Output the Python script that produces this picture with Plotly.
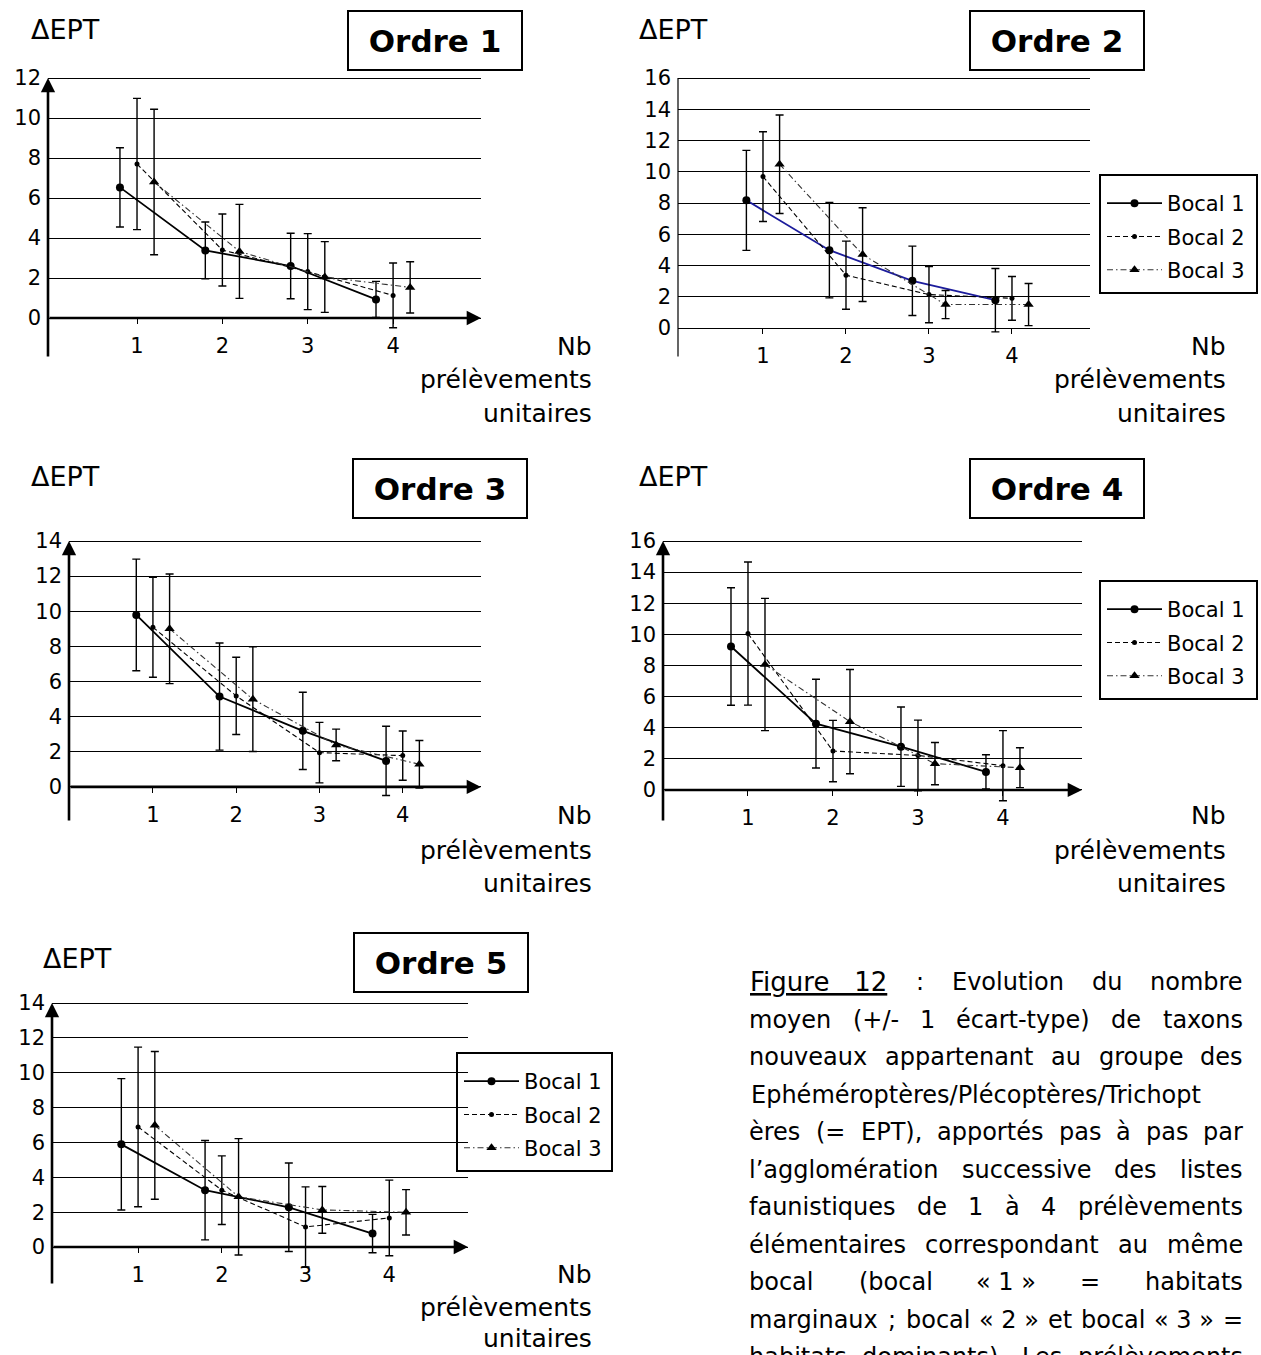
import re
import unicodedata
import plotly.graph_objects as go

W, H = 1261, 1355
FONT = "DejaVu Sans"

# ---------------- data ----------------
x_cats = [1, 2, 3, 4]
x_ticktext = ["1", "2", "3", "4"]
bocal_names = ["Bocal 1", "Bocal 2", "Bocal 3"]
bocal_offsets = [-0.2, 0.0, 0.2]

o1_b1_mean = [6.53, 3.38, 2.60, 0.93]
o1_b1_sd = [1.98, 1.42, 1.64, 0.90]
o1_b2_mean = [7.70, 3.40, 2.32, 1.13]
o1_b2_sd = [3.28, 1.80, 1.90, 1.62]
o1_b3_mean = [6.80, 3.33, 2.05, 1.53]
o1_b3_sd = [3.64, 2.35, 1.77, 1.28]

o2_b1_mean = [8.17, 4.98, 3.02, 1.78]
o2_b1_sd = [3.20, 3.05, 2.22, 2.03]
o2_b2_mean = [9.69, 3.38, 2.14, 1.90]
o2_b2_sd = [2.87, 2.18, 1.80, 1.40]
o2_b3_mean = [10.48, 4.70, 1.50, 1.50]
o2_b3_sd = [3.15, 3.00, 0.90, 1.35]

o3_b1_mean = [9.79, 5.14, 3.19, 1.48]
o3_b1_sd = [3.18, 3.05, 2.20, 1.97]
o3_b2_mean = [9.09, 5.18, 1.95, 1.78]
o3_b2_sd = [2.85, 2.20, 1.72, 1.40]
o3_b3_mean = [9.00, 4.99, 2.39, 1.29]
o3_b3_sd = [3.12, 2.98, 0.90, 1.35]

o4_b1_mean = [9.22, 4.26, 2.78, 1.16]
o4_b1_sd = [3.78, 2.85, 2.55, 1.10]
o4_b2_mean = [10.05, 2.50, 2.22, 1.56]
o4_b2_sd = [4.60, 1.97, 2.27, 2.25]
o4_b3_mean = [8.06, 4.39, 1.69, 1.43]
o4_b3_sd = [4.25, 3.35, 1.36, 1.28]

o5_b1_mean = [5.89, 3.26, 2.28, 0.77]
o5_b1_sd = [3.77, 2.85, 2.54, 1.10]
o5_b2_mean = [6.89, 3.26, 1.15, 1.67]
o5_b2_sd = [4.58, 1.97, 2.30, 2.17]
o5_b3_mean = [6.98, 2.88, 2.13, 1.99]
o5_b3_sd = [4.24, 3.34, 1.34, 1.30]

panel_titles = ["Ordre 1", "Ordre 2", "Ordre 3", "Ordre 4", "Ordre 5"]
panel_data = [
    [(o1_b1_mean, o1_b1_sd), (o1_b2_mean, o1_b2_sd), (o1_b3_mean, o1_b3_sd)],
    [(o2_b1_mean, o2_b1_sd), (o2_b2_mean, o2_b2_sd), (o2_b3_mean, o2_b3_sd)],
    [(o3_b1_mean, o3_b1_sd), (o3_b2_mean, o3_b2_sd), (o3_b3_mean, o3_b3_sd)],
    [(o4_b1_mean, o4_b1_sd), (o4_b2_mean, o4_b2_sd), (o4_b3_mean, o4_b3_sd)],
    [(o5_b1_mean, o5_b1_sd), (o5_b2_mean, o5_b2_sd), (o5_b3_mean, o5_b3_sd)],
]
y_label = "\u0394EPT"
x_label_lines = ["Nb", "prélèvements", "unitaires"]

caption_lines = [
    "<u>Figure\u00a0\u00a0\u00a012</u> : Evolution du nombre",
    "moyen (+/- 1 écart-type) de taxons",
    "nouveaux appartenant au groupe des",
    "Ephéméroptères/Plécoptères/Trichopt",
    "ères (= EPT), apportés pas à pas par",
    "l\u2019agglomération successive des listes",
    "faunistiques de 1 à 4 prélèvements",
    "élémentaires correspondant au même",
    "bocal (bocal «\u00a01\u00a0» = habitats",
    "marginaux ; bocal «\u00a02\u00a0» et bocal «\u00a03\u00a0» =",
    "habitats dominants). Les prélèvements",
]

# ---------------- layout geometry (pixels) ----------------
panels = [
    dict(xpx=(48, 481), ypx=(78, 358), xr=(-0.043, 5.03), yr=(-2, 12), ymax=12, arrows=True,
         legend=None, title_c=(435, 40), ept_c=(65, 29), nb_right=594, nb_y=(346, 380, 413)),
    dict(xpx=(678, 1090), ypx=(78, 358), xr=(-0.024, 4.94), yr=(-1.92, 16), ymax=16, arrows=False,
         legend="legend", title_c=(1057, 40), ept_c=(673, 29), nb_right=1228, nb_y=(346, 380, 413)),
    dict(xpx=(69, 481), ypx=(541, 822), xr=(-0.008, 4.94), yr=(-2, 14), ymax=14, arrows=True,
         legend=None, title_c=(440, 488), ept_c=(65, 476), nb_right=594, nb_y=(816, 850, 883)),
    dict(xpx=(663, 1082), ypx=(541, 822), xr=(0.0, 4.93), yr=(-2.06, 16), ymax=16, arrows=True,
         legend="legend2", title_c=(1057, 488), ept_c=(673, 476), nb_right=1228, nb_y=(816, 850, 883)),
    dict(xpx=(52, 468), ypx=(1003, 1285), xr=(-0.028, 4.94), yr=(-2.18, 14), ymax=14, arrows=True,
         legend="legend3", title_c=(441, 962), ept_c=(77, 958), nb_right=594, nb_y=(1274, 1307, 1338)),
]
# legend frames: left, top, right, bottom (px)
legend_box = {"legend": (1100, 175, 1257, 293), "legend2": (1100, 581, 1257, 699),
              "legend3": (457, 1053, 612, 1171)}

styles = [
    dict(line=dict(color="black", width=1.8, dash="solid"),
         marker=dict(symbol="circle", size=8, color="black")),
    dict(line=dict(color="black", width=1.1, dash="5px,3px"),
         marker=dict(symbol="circle", size=5, color="black")),
    dict(line=dict(color="#333333", width=1.1, dash="6px,3px,1.5px,3px"),
         marker=dict(symbol="triangle-up", size=9, color="black")),
]

fig = go.Figure()
annotations = []
shapes = []
layout = dict(width=W, height=H, margin=dict(l=0, r=0, t=0, b=0, pad=0, autoexpand=False),
              paper_bgcolor="white", plot_bgcolor="rgba(0,0,0,0)", showlegend=True,
              font=dict(family=FONT, color="black"))


def px2fx(px):
    return px / W


def px2fy(py):
    return 1 - py / H


EXTRA = 3  # px of headroom above the top gridline so it is drawn

for i, (p, data, title) in enumerate(zip(panels, panel_data, panel_titles)):
    n = i + 1
    xa = f"x{n}" if n > 1 else "x"
    ya = f"y{n}" if n > 1 else "y"
    xkey = f"xaxis{n}" if n > 1 else "xaxis"
    ykey = f"yaxis{n}" if n > 1 else "yaxis"
    y0, y1 = p["yr"]
    top_px, bot_px = p["ypx"]
    unit = (bot_px - top_px) / (y1 - y0)
    zero_px = bot_px - (0 - y0) * unit
    y1x = y1 + EXTRA / unit

    layout[xkey] = dict(domain=[px2fx(p["xpx"][0]), px2fx(p["xpx"][1])], range=list(p["xr"]),
                        anchor="free", position=px2fy(zero_px),
                        tickvals=x_cats, ticktext=x_ticktext, ticks="outside", ticklen=5,
                        tickwidth=1.2, tickcolor="black", showgrid=False, zeroline=False,
                        showline=False, ticklabelstandoff=4,
                        tickfont=dict(family=FONT, size=21, color="black"))
    layout[ykey] = dict(domain=[px2fy(bot_px), px2fy(top_px - EXTRA)], range=[y0, y1x],
                        anchor=xa, tickvals=list(range(0, p["ymax"] + 1, 2)), ticks="",
                        showgrid=True, gridcolor="black", gridwidth=1.2, zeroline=False,
                        showline=False, ticklabelstandoff=6,
                        tickfont=dict(family=FONT, size=21, color="black"))

    for j, ((mean, sd), name, off, st) in enumerate(zip(data, bocal_names, bocal_offsets, styles)):
        line = dict(st["line"])
        has_leg = p["legend"] is not None
        legend_only = False
        if n == 2 and j == 0:
            # blue curve in this panel, but its legend key is drawn in black
            line["color"] = "#1c1c9c"
            legend_only = True
            fig.add_trace(go.Scatter(
                x=[None], y=[None], mode="lines+markers", name=name, line=st["line"],
                marker=st["marker"], xaxis=xa, yaxis=ya, showlegend=True,
                legend=p["legend"], legendgroup=f"p{n}b{j}"))
        fig.add_trace(go.Scatter(
            x=[c + off for c in x_cats], y=mean, mode="lines+markers", name=name,
            line=line, marker=st["marker"], xaxis=xa, yaxis=ya,
            error_y=dict(type="data", array=sd, symmetric=True, color="black",
                         thickness=1.4, width=4),
            showlegend=has_leg and not legend_only,
            legend=p["legend"] if has_leg else "legend",
            legendgroup=f"p{n}b{j}",
        ))

    if p["arrows"]:
        annotations.append(dict(x=p["xr"][1], y=0, ax=p["xr"][0], ay=0, xref=xa, yref=ya,
                                axref=xa, ayref=ya, showarrow=True, arrowhead=2, arrowsize=1.1,
                                arrowwidth=2.6, arrowcolor="black", text=""))
        annotations.append(dict(x=p["xr"][0], y=y1, ax=p["xr"][0], ay=y0, xref=xa, yref=ya,
                                axref=xa, ayref=ya, showarrow=True, arrowhead=2, arrowsize=1.1,
                                arrowwidth=2.6, arrowcolor="black", text=""))
    else:
        annotations.append(dict(x=p["xr"][0], y=y1, ax=p["xr"][0], ay=y0, xref=xa, yref=ya,
                                axref=xa, ayref=ya, showarrow=True, arrowhead=0,
                                arrowwidth=1.2, arrowcolor="black", text=""))

    # panel title box
    annotations.append(dict(text=f"<b>{title}</b>", x=px2fx(p["title_c"][0]), y=px2fy(p["title_c"][1]),
                            xref="paper", yref="paper", showarrow=False, xanchor="center",
                            yanchor="middle", font=dict(family=FONT, size=31, color="black"),
                            bordercolor="black", borderwidth=2, borderpad=0, width=172, height=57,
                            bgcolor="white"))
    # y label
    annotations.append(dict(text=y_label, x=px2fx(p["ept_c"][0]), y=px2fy(p["ept_c"][1]),
                            xref="paper", yref="paper", showarrow=False, xanchor="center",
                            yanchor="middle", font=dict(family=FONT, size=27, color="black")))
    # x label
    for txt, yy in zip(x_label_lines, p["nb_y"]):
        annotations.append(dict(text=txt, x=px2fx(p["nb_right"]), y=px2fy(yy), xref="paper",
                                yref="paper", showarrow=False, xanchor="right", yanchor="middle",
                                font=dict(family=FONT, size=25, color="black")))

for key, (bl, bt, br, bb) in legend_box.items():
    shapes.append(dict(type="rect", xref="paper", yref="paper", x0=px2fx(bl), x1=px2fx(br),
                       y0=px2fy(bb), y1=px2fy(bt), line=dict(color="black", width=2),
                       fillcolor="white", layer="below"))
    layout[key] = dict(x=px2fx(bl + 2), y=px2fy(bt + 8), xanchor="left", yanchor="top",
                       bgcolor="rgba(0,0,0,0)", borderwidth=0,
                       font=dict(family=FONT, size=21, color="black"),
                       tracegroupgap=3, itemwidth=55, traceorder="grouped")

# ---------------- caption (justified word by word) ----------------
CW = {' ': .318, '\u00a0': .318, '!': .401, '(': .390, ')': .390, '+': .838, ',': .318, '-': .361,
      '.': .318, '/': .337, ':': .337, ';': .337, '=': .838, '«': .557, '»': .557, '\u2019': .318,
      'A': .684, 'B': .686, 'C': .698, 'D': .770, 'E': .632, 'F': .575, 'G': .775, 'H': .752,
      'I': .295, 'L': .557, 'M': .863, 'N': .748, 'O': .787, 'P': .603, 'R': .695, 'S': .635,
      'T': .611, 'a': .613, 'b': .635, 'c': .550, 'd': .635, 'e': .615, 'f': .352, 'g': .635,
      'h': .634, 'i': .278, 'j': .278, 'k': .579, 'l': .278, 'm': .974, 'n': .634, 'o': .612,
      'p': .635, 'q': .635, 'r': .411, 's': .521, 't': .392, 'u': .634, 'v': .592, 'w': .818,
      'x': .592, 'y': .592, 'z': .525}


def text_width(s, size):
    plain = re.sub(r"<[^>]+>", "", s)
    tot = 0
    for ch in plain:
        if ch.isdigit():
            tot += .636
            continue
        base = unicodedata.normalize("NFD", ch)[0]
        tot += CW.get(ch, CW.get(base, 0.6))
    return tot * size


CAP_X0, CAP_X1 = 749, 1243
CAP_SIZE = 24
for li, line in enumerate(caption_lines):
    yc = 982 + 37.5 * li
    tokens = line.split(" ")
    sizes = [26 if t.startswith("<u>") else CAP_SIZE for t in tokens]
    widths = [text_width(t, s) for t, s in zip(tokens, sizes)]
    gap = (CAP_X1 - CAP_X0 - sum(widths)) / (len(tokens) - 1) if len(tokens) > 1 else 0
    x = CAP_X0
    for t, s, w in zip(tokens, sizes, widths):
        if len(tokens) == 1:
            annotations.append(dict(text=t, x=px2fx(x), y=px2fy(yc), xref="paper", yref="paper",
                                    showarrow=False, xanchor="left", yanchor="middle",
                                    font=dict(family=FONT, size=s, color="black")))
        else:
            annotations.append(dict(text=t, x=px2fx(x + w / 2), y=px2fy(yc), xref="paper",
                                    yref="paper", showarrow=False, xanchor="center",
                                    yanchor="middle", font=dict(family=FONT, size=s, color="black")))
        x += w + gap

layout["annotations"] = annotations
layout["shapes"] = shapes
fig.update_layout(**layout)
fig.write_html("out.html")
